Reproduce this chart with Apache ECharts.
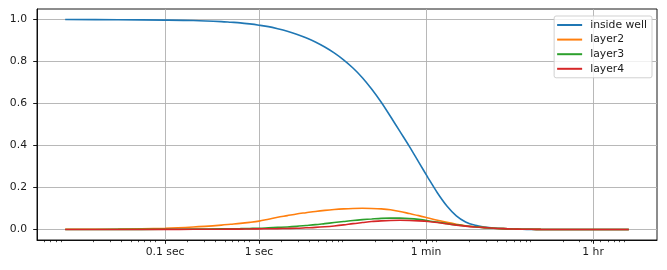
<!DOCTYPE html>
<html><head><meta charset="utf-8">
<script src="https://cdn.jsdelivr.net/npm/echarts@6/dist/echarts.min.js"></script>
<style>html,body{margin:0;padding:0;background:#fff}#c{width:667px;height:270px}</style>
</head><body><div id="c"></div>
<script>
// time in seconds
const timeSeconds = [0.00864, 0.0316, 0.1, 0.2, 0.398, 0.501, 0.631, 0.794,
  1, 1.26, 1.58, 2, 2.51, 3.16, 3.98, 5.01, 6.31, 7.94, 10, 12.6, 15.8, 20, 25.1, 31.6, 39.8, 50.1, 63.1, 79.4,
  100, 126, 158, 200, 251, 316, 398, 501, 631, 794, 1000, 3000, 8640];
const insideWell = [1.0, 0.999, 0.997, 0.995, 0.990, 0.987, 0.984, 0.979,
  0.973, 0.966, 0.956, 0.944, 0.930, 0.913, 0.893, 0.869, 0.841, 0.808, 0.769, 0.723, 0.669, 0.606, 0.538, 0.467, 0.396, 0.321, 0.246, 0.174,
  0.112, 0.065, 0.036, 0.020, 0.012, 0.007, 0.004, 0.002, 0.001, 0.0005, 0, 0, 0];
const layer2 = [0.001, 0.002, 0.006, 0.012, 0.021, 0.025, 0.029, 0.034,
  0.040, 0.049, 0.058, 0.066, 0.074, 0.080, 0.086, 0.091, 0.095, 0.098, 0.100, 0.101, 0.100, 0.098, 0.094, 0.086, 0.076, 0.066, 0.055, 0.044,
  0.034, 0.025, 0.018, 0.013, 0.009, 0.006, 0.004, 0.0025, 0.0015, 0.001, 0.0005, 0, 0];
const layer3 = [0, 0.0005, 0.001, 0.002, 0.003, 0.0035, 0.004, 0.005,
  0.006, 0.008, 0.010, 0.012, 0.015, 0.019, 0.023, 0.028, 0.033, 0.038, 0.043, 0.047, 0.050, 0.053, 0.054, 0.054, 0.052, 0.048, 0.042, 0.035,
  0.028, 0.022, 0.017, 0.013, 0.009, 0.006, 0.004, 0.0025, 0.0015, 0.001, 0.0005, 0, 0];
const layer4 = [0, 0, 0.0005, 0.001, 0.0015, 0.0018, 0.002, 0.0025,
  0.003, 0.0035, 0.004, 0.005, 0.006, 0.008, 0.010, 0.013, 0.017, 0.022, 0.028, 0.033, 0.038, 0.041, 0.043, 0.044, 0.043, 0.041, 0.038, 0.033,
  0.027, 0.021, 0.016, 0.012, 0.009, 0.006, 0.004, 0.0025, 0.0015, 0.001, 0.0005, 0, 0];
const seriesNames = ['inside well', 'layer2', 'layer3', 'layer4'];
const seriesColors = ['#1f77b4', '#ff7f0e', '#2ca02c', '#d62728'];
const majorTickSeconds = [0.1, 1, 60, 3600];
const majorTickLabels = ['0.1 sec', '1 sec', '1 min', '1 hr'];
const yTickValues = [0, 0.2, 0.4, 0.6, 0.8, 1.0];

const X_MIN = Math.pow(10, -2.3635), X_MAX = Math.pow(10, 4.2365);
// minor ticks: log subdivisions of days
const minorTicks = [];
for (let n = -9; n <= 0; n++) for (let k = 2; k <= 9; k++) {
  const v = k * Math.pow(10, n) * 86400;
  if (v >= X_MIN && v <= X_MAX) minorTicks.push(v);
}
const FONT = 'DejaVu Sans', FS = 10.8, TXT = '#1a1a1a';
const allSeries = [insideWell, layer2, layer3, layer4];
const chart = echarts.init(document.getElementById('c'), null, {renderer: 'canvas'});
chart.setOption({
  animation: false,
  grid: {left: 37, right: 10, top: 9, bottom: 30, show: true, borderColor: '#000', borderWidth: 0.9, backgroundColor: 'transparent'},
  legend: {
    orient: 'vertical', right: 15, top: 16,
    backgroundColor: 'rgba(255,255,255,0.8)', borderColor: '#cccccc', borderWidth: 0.9, borderRadius: 2,
    padding: [3, 5, 3, 3], itemGap: 2.6, itemWidth: 25, itemHeight: 2, icon: 'rect',
    textStyle: {fontFamily: FONT, fontSize: FS, color: TXT, lineHeight: 12, padding: [0, 0, 0, 3]},
    data: seriesNames
  },
  xAxis: [{
    type: 'log', logBase: 10, min: X_MIN, max: X_MAX,
    axisLine: {show: true, onZero: false, lineStyle: {color: '#000', width: 0.9}},
    axisTick: {show: true, customValues: majorTickSeconds, length: 3.8, lineStyle: {color: '#000', width: 0.9}},
    axisLabel: {show: true, customValues: majorTickSeconds, margin: 7, fontFamily: FONT, fontSize: FS, color: TXT,
      formatter: v => { let best = 0; majorTickSeconds.forEach((t, i) => { if (Math.abs(Math.log10(t) - Math.log10(v)) < Math.abs(Math.log10(majorTickSeconds[best]) - Math.log10(v))) best = i; }); return majorTickLabels[best]; }},
    splitLine: {show: true, lineStyle: {color: '#b0b0b0', width: 0.9}},
    minorTick: {show: false}
  }, {
    type: 'log', logBase: 10, min: X_MIN, max: X_MAX, position: 'bottom',
    axisLine: {show: false, onZero: false},
    axisTick: {show: true, customValues: minorTicks, length: 2.2, lineStyle: {color: '#000', width: 0.7}},
    axisLabel: {show: false},
    splitLine: {show: false}
  }],
  yAxis: {
    type: 'value', min: -0.05, max: 1.05,
    axisLine: {show: true, onZero: false, lineStyle: {color: '#000', width: 0.9}},
    axisTick: {show: true, customValues: yTickValues, length: 3.8, lineStyle: {color: '#000', width: 0.9}},
    axisLabel: {show: true, customValues: yTickValues, margin: 10, fontFamily: FONT, fontSize: FS, color: TXT, formatter: v => v.toFixed(1)},
    splitLine: {show: true, lineStyle: {color: '#b0b0b0', width: 0.9}}
  },
  series: allSeries.map((vals, i) => ({
    name: seriesNames[i], type: 'line', xAxisIndex: 0, showSymbol: false, smooth: 0.3,
    color: seriesColors[i], lineStyle: {width: 1.6, color: seriesColors[i]},
    data: timeSeconds.map((t, j) => [t, vals[j]])
  }))
});
</script></body></html>
